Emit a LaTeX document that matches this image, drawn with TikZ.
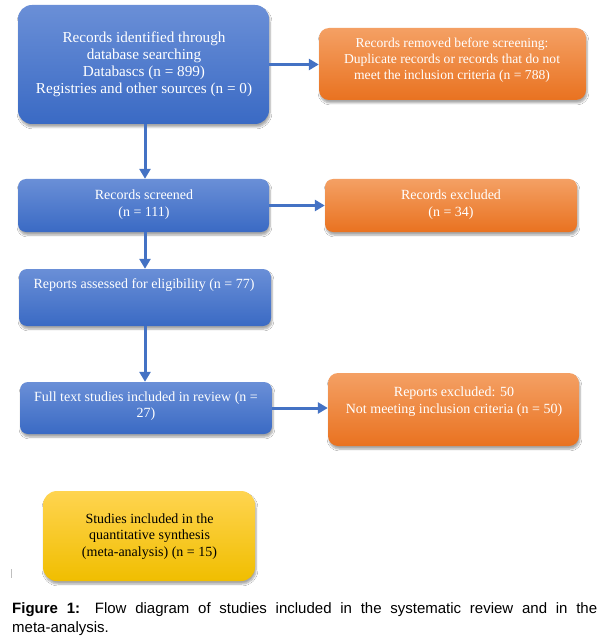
\documentclass[tikz,border=0pt]{standalone}
\usepackage{fontspec}
\setmainfont{Liberation Serif}
\newfontfamily\capfont{Liberation Sans}
\usetikzlibrary{arrows.meta,shadows.blur}
\definecolor{bluetop}{RGB}{106,143,215}
\definecolor{bluebot}{RGB}{58,106,196}
\definecolor{orgtop}{RGB}{244,160,100}
\definecolor{orgbot}{RGB}{233,114,32}
\definecolor{yeltop}{RGB}{255,212,80}
\definecolor{yelbot}{RGB}{240,190,0}
\definecolor{arrowblue}{RGB}{68,114,196}
\tikzset{
  boxbase/.style={draw=none, inner sep=0pt,
    blur shadow={shadow xshift=1pt, shadow yshift=-3pt, shadow blur steps=6, shadow opacity=35}},
  bluebox/.style={boxbase, top color=bluetop, bottom color=bluebot},
  orangebox/.style={boxbase, top color=orgtop, bottom color=orgbot},
  yellowbox/.style={boxbase, top color=yeltop, bottom color=yelbot},
  boxtext/.style={align=center, inner sep=0pt, text=white,
    font=\fontsize{14}{16.7}\selectfont},
  flow/.style={draw=arrowblue, line width=3pt, -{Triangle[length=10pt,width=11pt]}}
}
\begin{document}
\begin{tikzpicture}[x=1pt,y=-1pt]
\useasboundingbox (0,0) rectangle (604,636);
\fill[white] (0,0) rectangle (604,636);

% boxes
\node[bluebox, rounded corners=14pt, minimum width=251pt, minimum height=119pt] (B1) at (143.5,64.5) {};
\node[orangebox, rounded corners=10pt, minimum width=267pt, minimum height=72pt] (O1) at (452.5,64) {};
\node[bluebox, rounded corners=8pt, minimum width=251pt, minimum height=53pt] (B2) at (143.5,205.5) {};
\node[orangebox, rounded corners=8pt, minimum width=252pt, minimum height=53pt] (O2) at (451,205.5) {};
\node[bluebox, rounded corners=8pt, minimum width=252pt, minimum height=57pt] (B3) at (145,297.5) {};
\node[bluebox, rounded corners=8pt, minimum width=252pt, minimum height=52pt] (B4) at (146,408) {};
\node[orangebox, rounded corners=10pt, minimum width=251pt, minimum height=73pt] (O3) at (453.5,409.5) {};
\node[yellowbox, rounded corners=14pt, minimum width=212pt, minimum height=90pt] (Y) at (149,536) {};

% texts
\node[boxtext, font=\fontsize{15.2}{16.7}\selectfont] (tB1) at (144,64.3) {Records identified through\\database searching\\Databascs (n = 899)\\Registries and other sources (n = 0)};
\node[boxtext, font=\fontsize{13.6}{16.2}\selectfont] (tO1) at (452,60.4) {Records removed before screening:\\Duplicate records or records that do not\\meet the inclusion criteria (n = 788)};
\node[boxtext] (tB2) at (144,204.5) {Records screened\\(n = 111)};
\node[boxtext] (tO2) at (451,204.5) {Records excluded\\(n = 34)};
\node[boxtext] (tB3) at (144,285) {Reports assessed for eligibility (n = 77)};
\node[boxtext] (tB4) at (146,406) {Full text studies included in review (n =\\27)};
\node[boxtext] (tO3) at (454,401.5) {Reports excluded: 50\\Not meeting inclusion criteria (n = 50)};
\node[boxtext, text=black] (tY) at (149.5,536.5) {Studies included in the\\quantitative synthesis\\(meta-analysis) (n = 15)};

% connectors
\draw[flow] (B1.south -| B3) -- (B2.north -| B3);
\draw[flow] (B2.south -| B3) -- (B3.north);
\draw[flow] (B3.south) -- (B4.north -| B3.south);
\draw[flow] (B1.east) -- (B1.east -| O1.west);
\draw[flow] (B2.east) -- (O2.west);
\draw[flow] (B4.east) -- (B4.east -| O3.west);

% small stray mark
\draw[gray!50, line width=0.8pt] (11.5,569) -- (11.5,578);

% caption
\node[anchor=base west, inner sep=0pt] (cap) at (12,613)
  {\parbox[t]{585pt}{\capfont\fontsize{15}{19.5}\selectfont\textbf{Figure 1:} Flow diagram of studies included in the systematic review and in the\linebreak \mbox{meta-analysis.}}};
\end{tikzpicture}
\end{document}
